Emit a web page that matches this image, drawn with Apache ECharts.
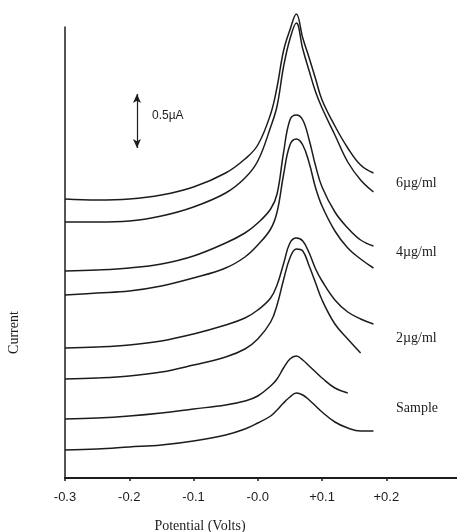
<!DOCTYPE html>
<html>
<head>
<meta charset="utf-8">
<title>Voltammograms – standard additions</title>
<script src="https://cdn.jsdelivr.net/npm/echarts@6/dist/echarts.min.js"></script>
<style>
  html, body { margin: 0; padding: 0; background: #fff; }
  #chart { width: 457px; height: 532px; }
</style>
</head>
<body>
<div id="chart"></div>
<script>
// ── Data (potential in V, current in µA as drawn, traces offset) ─────

const potentials = [-0.30, -0.25, -0.20, -0.15, -0.10, -0.05, -0.02, 0.00, 0.02, 0.03,
  0.04, 0.05, 0.06, 0.07, 0.08, 0.09, 0.10, 0.12, 0.14, 0.16, 0.18];

const sampleLow  = [0.28, 0.29, 0.31, 0.33, 0.37, 0.43, 0.49, 0.55, 0.62, 0.68,
  0.75, 0.81, 0.85, 0.83, 0.78, 0.72, 0.66, 0.56, 0.50, 0.47, 0.47];
const sampleHigh = [0.59, 0.60, 0.62, 0.65, 0.69, 0.73, 0.77, 0.82, 0.92, 0.99,
  1.10, 1.19, 1.22, 1.18, 1.12, 1.06, 1.00, 0.90, 0.85, null, null];
const add2Low    = [0.99, 1.00, 1.02, 1.06, 1.13, 1.21, 1.29, 1.39, 1.56, 1.73,
  1.98, 2.20, 2.29, 2.27, 2.12, 1.95, 1.78, 1.54, 1.39, 1.25, null];
const add2High   = [1.30, 1.31, 1.33, 1.37, 1.44, 1.53, 1.60, 1.68, 1.80, 1.93,
  2.14, 2.35, 2.40, 2.37, 2.25, 2.09, 1.97, 1.78, 1.66, 1.59, 1.54];
const add4Low    = [1.83, 1.85, 1.87, 1.92, 2.00, 2.10, 2.21, 2.33, 2.49, 2.66,
  3.03, 3.33, 3.39, 3.33, 3.15, 2.90, 2.72, 2.47, 2.30, 2.19, 2.10];
const add4High   = [2.07, 2.08, 2.10, 2.14, 2.22, 2.35, 2.45, 2.55, 2.69, 2.84,
  3.25, 3.58, 3.63, 3.58, 3.38, 3.12, 2.91, 2.66, 2.50, 2.38, 2.32];
const add6Low    = [2.56, 2.56, 2.57, 2.62, 2.71, 2.85, 3.00, 3.17, 3.51, 3.72,
  4.11, 4.39, 4.55, 4.29, 4.07, 3.86, 3.70, 3.43, 3.16, 2.98, 2.86];
const add6High   = [2.79, 2.78, 2.79, 2.83, 2.91, 3.05, 3.19, 3.33, 3.64, 3.91,
  4.27, 4.48, 4.64, 4.40, 4.20, 3.99, 3.78, 3.52, 3.30, 3.13, 3.05];

const tickValues = [-0.3, -0.2, -0.1, 0, 0.1, 0.2];
const tickLabels = ["-0.3", "-0.2", "-0.1", "-0.0", "+0.1", "+0.2"];

const traceLabels = ["6µg/ml", "4µg/ml", "2µg/ml", "Sample"];

// 0.5 µA scale bar: [potential, from, to]
const scaleBar = [-0.188, 3.30, 3.84];
const scaleText = "0.5µA";

// ── Helpers ────────────────────────────────────────────────────────────

const INK = "#1c1c1c";
const SERIF = "'Liberation Serif', 'DejaVu Serif', serif";
const SANS = "'Liberation Sans', Arial, sans-serif";

function toPairs(values) {
  return potentials
    .map((v, i) => [v, values[i]])
    .filter((p) => p[1] !== null);
}

function trace(name, values) {
  return {
    name,
    type: "line",
    data: toPairs(values),
    showSymbol: false,
    smooth: 0.4,
    clip: false,
    silent: true,
    lineStyle: { color: INK, width: 1.5 },
  };
}

const series = [
  trace("Sample a", sampleLow),
  trace("Sample b", sampleHigh),
  trace("2µg/ml a", add2Low),
  trace("2µg/ml b", add2High),
  trace("4µg/ml a", add4Low),
  trace("4µg/ml b", add4High),
  trace("6µg/ml a", add6Low),
  trace("6µg/ml b", add6High),
];

// scale bar rides on a blank series as a double-headed markLine
series.push({
  name: "scale",
  type: "line",
  data: [],
  silent: true,
  markLine: {
    silent: true,
    animation: false,
    symbol: ["arrow", "arrow"],
    symbolSize: [6, 9],
    label: { show: false },
    lineStyle: { color: INK, width: 1.2, type: "solid" },
    data: [[
      { coord: [scaleBar[0], scaleBar[1]] },
      { coord: [scaleBar[0], scaleBar[2]] },
    ]],
  },
});

// ── Chart ──────────────────────────────────────────────────────────────

const chart = echarts.init(document.getElementById("chart"), null, { renderer: "canvas" });

const labelTops = [176, 245, 331, 401];

chart.setOption({
  animation: false,
  backgroundColor: "#fff",
  grid: { left: 65, right: 0, top: 27, bottom: 54, outerBoundsMode: "none" },
  xAxis: {
    type: "value",
    min: -0.3,
    max: 0.31,
    interval: 0.1,
    splitLine: { show: false },
    axisLine: { onZero: false, lineStyle: { color: INK, width: 2 } },
    axisTick: { length: 3, customValues: tickValues, lineStyle: { color: INK, width: 1.5 } },
    axisLabel: {
      customValues: tickValues,
      margin: 13,
      color: INK,
      fontFamily: SANS,
      fontSize: 13,
      formatter: (v) => {
        const i = tickValues.findIndex((t) => Math.abs(t - v) < 1e-6);
        return i >= 0 ? tickLabels[i] : "";
      },
    },
    name: "Potential (Volts)",
    nameLocation: "middle",
    nameGap: 41,
    nameTextStyle: { color: INK, fontFamily: SERIF, fontSize: 14, padding: [0, 122, 0, 0] },
  },
  yAxis: {
    type: "value",
    min: 0,
    max: 4.51,
    splitLine: { show: false },
    axisLine: { show: true, onZero: false, lineStyle: { color: INK, width: 1.5 } },
    axisTick: { show: false },
    axisLabel: { show: false },
    name: "Current",
    nameLocation: "middle",
    nameGap: 44,
    nameTextStyle: { color: INK, fontFamily: SERIF, fontSize: 14, padding: [0, 160, 0, 0] },
  },
  graphic: [
    {
      type: "text",
      left: 152,
      top: 110,
      style: { text: scaleText, fill: INK, font: `12px ${SANS}` },
    },
    ...traceLabels.map((t, i) => ({
      type: "text",
      left: 396,
      top: labelTops[i],
      style: { text: t, fill: INK, font: `14px ${SERIF}` },
    })),
  ],
  series,
});
</script>
</body>
</html>
